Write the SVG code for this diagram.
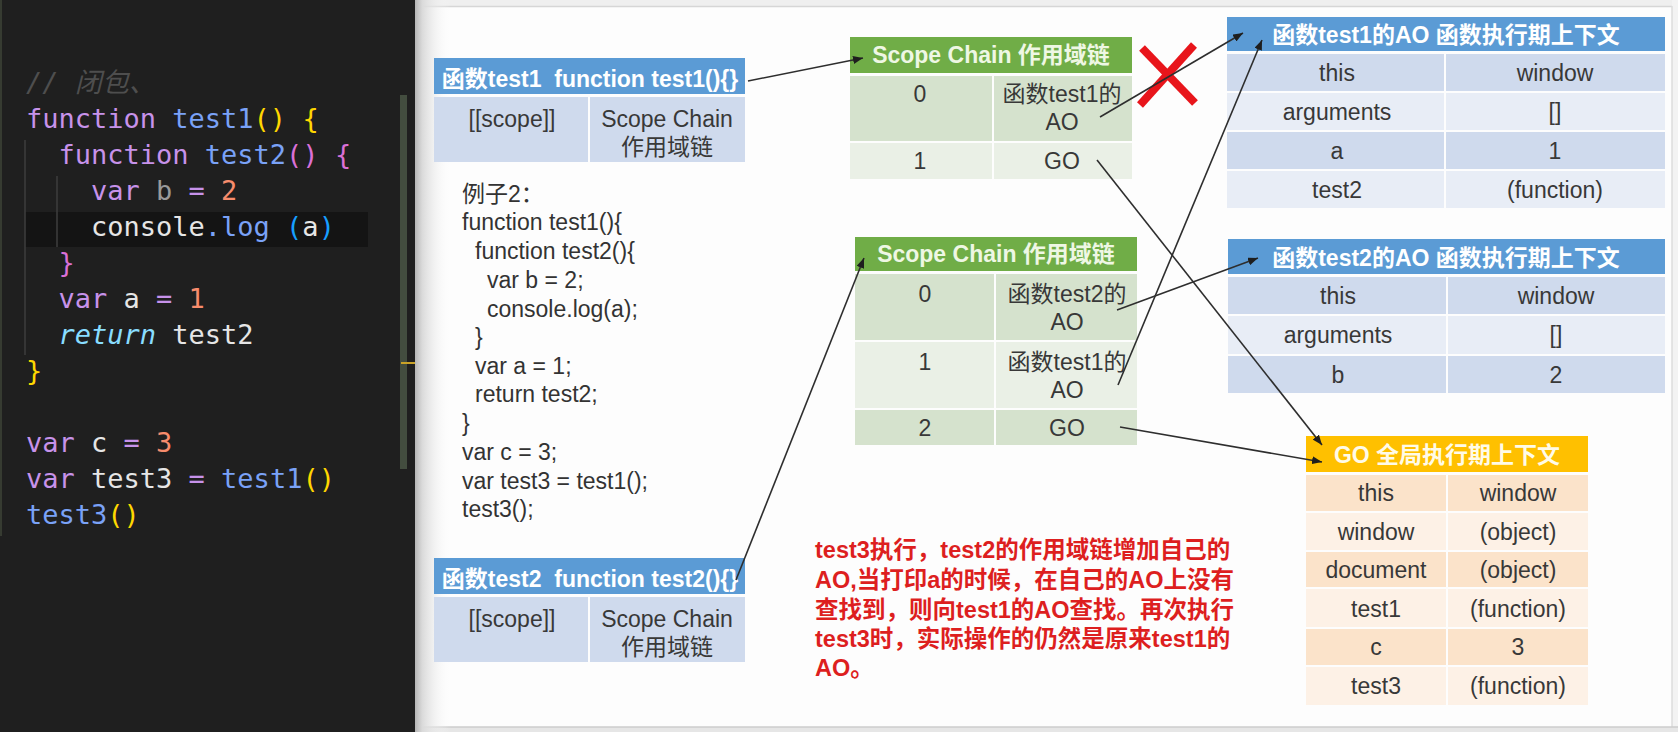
<svg xmlns="http://www.w3.org/2000/svg" width="1678" height="732" viewBox="0 0 1678 732">
<defs>
<style>
.code{font-family:"DejaVu Sans Mono","Noto Sans CJK SC",monospace;font-size:27px}
.kw{fill:#c792ea}.fn{fill:#7aa2f7}.yl{fill:#ffd700}.pk{fill:#da70d6}.lb{fill:#179fff}.num{fill:#f78c6c}.wh{fill:#e6e6e6}.gy{fill:#9a9a9a}.op{fill:#c792ea}.rt{fill:#89ddff;font-style:italic}
.cm{fill:#4e4e4e;font-style:italic}
.t{font-family:"Liberation Sans","Noto Sans CJK SC",sans-serif;font-size:23px;fill:#383838;text-anchor:middle}
.hd{font-weight:bold;fill:#ffffff}
.hdg{font-weight:bold;fill:#eef7e4}
.hdo{font-weight:bold;fill:#fffbe8}
.ex{text-anchor:start;fill:#333333}
.note{font-family:"Liberation Sans","Noto Sans CJK SC",sans-serif;font-size:23.5px;font-weight:bold;fill:#dd1f1f}
.bh{fill:#5b9bd5}.bd{fill:#cfdaed}.bl{fill:#e8edf6}
.gh{fill:#70ad47}.gd{fill:#d5e2cd}.gl{fill:#eaf0e6}
.oh{fill:#ffc000}.od{fill:#fbe3ca}.ol{fill:#fdf1e6}
.conn{stroke:#2e2e2e;stroke-width:1.6;fill:none;marker-end:url(#ah)}
</style>
<marker id="ah" viewBox="0 0 10 8" refX="10" refY="4" markerWidth="10" markerHeight="8" markerUnits="userSpaceOnUse" orient="auto">
<path d="M0,0 L10,4 L0,8 z" fill="#1e1e1e"/>
</marker>
<linearGradient id="shadow" x1="0" y1="0" x2="1" y2="0">
<stop offset="0" stop-color="#b5b5b5"/>
<stop offset="0.2" stop-color="#dadada"/>
<stop offset="1" stop-color="#fdfdfd" stop-opacity="0"/>
</linearGradient>
</defs>

<!-- slide background -->
<rect x="415" y="0" width="1263" height="732" fill="#fdfdfd"/>
<rect x="415" y="0" width="1263" height="6" fill="#efefef"/>
<line x1="415" y1="6.5" x2="1678" y2="6.5" stroke="#d6d6d6" stroke-width="1.5"/>
<rect x="1672" y="0" width="6" height="732" fill="#f3f3f3"/>
<line x1="1672" y1="6" x2="1672" y2="727" stroke="#dcdcdc" stroke-width="1.5"/>
<rect x="415" y="727" width="1263" height="5" fill="#e6e6e6"/>
<line x1="415" y1="727" x2="1678" y2="727" stroke="#cccccc" stroke-width="1.5"/>
<rect x="415" y="0" width="36" height="732" fill="url(#shadow)"/>

<!-- code editor panel -->
<g id="editor">
<rect x="0" y="0" width="415" height="732" fill="#1f1f1f"/>
<rect x="0" y="0" width="2" height="536" fill="#363b31"/>
<rect x="25" y="212" width="343" height="35" fill="#141414"/>
<line x1="25" y1="140" x2="25" y2="355" stroke="#3e3e3e" stroke-width="1.5"/>
<line x1="57" y1="176" x2="57" y2="247" stroke="#3e3e3e" stroke-width="1.5"/>
<rect x="400" y="95" width="7" height="374" fill="#434d3f"/>
<rect x="401" y="362" width="14" height="2" fill="#c9a227"/>
<text class="code" xml:space="preserve" x="26" y="92"><tspan class="cm">// 闭包、</tspan></text>
<text class="code" xml:space="preserve" x="26" y="128"><tspan class="kw">function</tspan> <tspan class="fn">test1</tspan><tspan class="yl">()</tspan> <tspan class="yl">{</tspan></text>
<text class="code" xml:space="preserve" x="58.5" y="164"><tspan class="kw">function</tspan> <tspan class="fn">test2</tspan><tspan class="pk">()</tspan> <tspan class="pk">{</tspan></text>
<text class="code" xml:space="preserve" x="91" y="200"><tspan class="kw">var</tspan> <tspan class="gy">b</tspan> <tspan class="op">=</tspan> <tspan class="num">2</tspan></text>
<text class="code" xml:space="preserve" x="91" y="236"><tspan class="wh">console</tspan><tspan class="fn">.log</tspan> <tspan class="lb">(</tspan><tspan class="wh">a</tspan><tspan class="lb">)</tspan></text>
<text class="code" xml:space="preserve" x="58.5" y="272"><tspan class="pk">}</tspan></text>
<text class="code" xml:space="preserve" x="58.5" y="308"><tspan class="kw">var</tspan><tspan class="wh"> a </tspan><tspan class="op">=</tspan> <tspan class="num">1</tspan></text>
<text class="code" xml:space="preserve" x="58.5" y="344"><tspan class="rt">return</tspan><tspan class="wh"> test2</tspan></text>
<text class="code" xml:space="preserve" x="26" y="380"><tspan class="yl">}</tspan></text>
<text class="code" xml:space="preserve" x="26" y="452"><tspan class="kw">var</tspan><tspan class="wh"> c </tspan><tspan class="op">=</tspan> <tspan class="num">3</tspan></text>
<text class="code" xml:space="preserve" x="26" y="488"><tspan class="kw">var</tspan><tspan class="wh"> test3 </tspan><tspan class="op">=</tspan> <tspan class="fn">test1</tspan><tspan class="yl">()</tspan></text>
<text class="code" xml:space="preserve" x="26" y="524"><tspan class="fn">test3</tspan><tspan class="yl">()</tspan></text>
</g>

<!-- function test1 box -->
<g id="fn-test1">
<rect class="bh" x="434" y="58" width="311" height="36"/>
<rect class="bd" x="434" y="97" width="154" height="65"/>
<rect class="bd" x="590" y="97" width="155" height="65"/>
<text class="t hd" xml:space="preserve" x="590" y="87">函数test1  function test1(){}</text>
<text class="t" x="512" y="127">[[scope]]</text>
<text class="t" x="667" y="127">Scope Chain</text>
<text class="t" x="667" y="155">作用域链</text>
</g>

<!-- example code -->
<g id="example">
<text class="t ex" x="462" y="202">例子2：</text>
<text class="t ex" x="462" y="230">function test1(){</text>
<text class="t ex" x="475" y="259">function test2(){</text>
<text class="t ex" x="487" y="288">var b = 2;</text>
<text class="t ex" x="487" y="317">console.log(a);</text>
<text class="t ex" x="475" y="345">}</text>
<text class="t ex" x="475" y="374">var a = 1;</text>
<text class="t ex" x="475" y="402">return test2;</text>
<text class="t ex" x="462" y="431">}</text>
<text class="t ex" x="462" y="460">var c = 3;</text>
<text class="t ex" x="462" y="489">var test3 = test1();</text>
<text class="t ex" x="462" y="517">test3();</text>
</g>

<!-- function test2 box -->
<g id="fn-test2">
<rect class="bh" x="434" y="558" width="311" height="36"/>
<rect class="bd" x="434" y="597" width="154" height="65"/>
<rect class="bd" x="590" y="597" width="155" height="65"/>
<text class="t hd" xml:space="preserve" x="590" y="587">函数test2  function test2(){}</text>
<text class="t" x="512" y="627">[[scope]]</text>
<text class="t" x="667" y="627">Scope Chain</text>
<text class="t" x="667" y="655">作用域链</text>
</g>

<!-- scope chain of test1 -->
<g id="scope-chain-1">
<rect class="gh" x="850" y="37" width="282" height="36"/>
<rect class="gd" x="850" y="76" width="142" height="65"/>
<rect class="gd" x="994" y="76" width="138" height="65"/>
<rect class="gl" x="850" y="143" width="142" height="36"/>
<rect class="gl" x="994" y="143" width="138" height="36"/>
<text class="t hdg" x="991" y="63">Scope Chain 作用域链</text>
<text class="t" x="920" y="102">0</text>
<text class="t" x="1062" y="102">函数test1的</text>
<text class="t" x="1062" y="130">AO</text>
<text class="t" x="920" y="169">1</text>
<text class="t" x="1062" y="169">GO</text>
</g>

<!-- scope chain of test2 -->
<g id="scope-chain-2">
<rect class="gh" x="855" y="237" width="282" height="34"/>
<rect class="gd" x="855" y="274" width="139" height="66"/>
<rect class="gd" x="996" y="274" width="141" height="66"/>
<rect class="gl" x="855" y="342" width="139" height="66"/>
<rect class="gl" x="996" y="342" width="141" height="66"/>
<rect class="gd" x="855" y="410" width="139" height="35"/>
<rect class="gd" x="996" y="410" width="141" height="35"/>
<text class="t hdg" x="996" y="262">Scope Chain 作用域链</text>
<text class="t" x="925" y="302">0</text>
<text class="t" x="1067" y="302">函数test2的</text>
<text class="t" x="1067" y="330">AO</text>
<text class="t" x="925" y="370">1</text>
<text class="t" x="1067" y="370">函数test1的</text>
<text class="t" x="1067" y="398">AO</text>
<text class="t" x="925" y="436">2</text>
<text class="t" x="1067" y="436">GO</text>
</g>

<!-- AO of test1 -->
<g id="ao-test1">
<rect class="bh" x="1227" y="17" width="438" height="34"/>
<rect class="bd" x="1227" y="54" width="217" height="37"/>
<rect class="bd" x="1446" y="54" width="219" height="37"/>
<rect class="bl" x="1227" y="93" width="217" height="37"/>
<rect class="bl" x="1446" y="93" width="219" height="37"/>
<rect class="bd" x="1227" y="132" width="217" height="37"/>
<rect class="bd" x="1446" y="132" width="219" height="37"/>
<rect class="bl" x="1227" y="171" width="217" height="37"/>
<rect class="bl" x="1446" y="171" width="219" height="37"/>
<text class="t hd" x="1446" y="43">函数test1的AO 函数执行期上下文</text>
<text class="t" x="1337" y="81">this</text>
<text class="t" x="1555" y="81">window</text>
<text class="t" x="1337" y="120">arguments</text>
<text class="t" x="1555" y="120">[]</text>
<text class="t" x="1337" y="159">a</text>
<text class="t" x="1555" y="159">1</text>
<text class="t" x="1337" y="198">test2</text>
<text class="t" x="1555" y="198">(function)</text>
</g>

<!-- AO of test2 -->
<g id="ao-test2">
<rect class="bh" x="1228" y="239" width="437" height="35"/>
<rect class="bd" x="1228" y="277" width="218" height="37"/>
<rect class="bd" x="1448" y="277" width="217" height="37"/>
<rect class="bl" x="1228" y="316" width="218" height="38"/>
<rect class="bl" x="1448" y="316" width="217" height="38"/>
<rect class="bd" x="1228" y="356" width="218" height="37"/>
<rect class="bd" x="1448" y="356" width="217" height="37"/>
<text class="t hd" x="1446" y="266">函数test2的AO 函数执行期上下文</text>
<text class="t" x="1338" y="304">this</text>
<text class="t" x="1556" y="304">window</text>
<text class="t" x="1338" y="343">arguments</text>
<text class="t" x="1556" y="343">[]</text>
<text class="t" x="1338" y="383">b</text>
<text class="t" x="1556" y="383">2</text>
</g>

<!-- GO -->
<g id="go">
<rect class="oh" x="1306" y="436" width="282" height="36"/>
<rect class="od" x="1306" y="475" width="140" height="36"/>
<rect class="od" x="1448" y="475" width="140" height="36"/>
<rect class="ol" x="1306" y="513" width="140" height="37"/>
<rect class="ol" x="1448" y="513" width="140" height="37"/>
<rect class="od" x="1306" y="552" width="140" height="35"/>
<rect class="od" x="1448" y="552" width="140" height="35"/>
<rect class="ol" x="1306" y="589" width="140" height="38"/>
<rect class="ol" x="1448" y="589" width="140" height="38"/>
<rect class="od" x="1306" y="629" width="140" height="36"/>
<rect class="od" x="1448" y="629" width="140" height="36"/>
<rect class="ol" x="1306" y="667" width="140" height="38"/>
<rect class="ol" x="1448" y="667" width="140" height="38"/>
<text class="t hdo" x="1447" y="463">GO 全局执行期上下文</text>
<text class="t" x="1376" y="501">this</text>
<text class="t" x="1518" y="501">window</text>
<text class="t" x="1376" y="540">window</text>
<text class="t" x="1518" y="540">(object)</text>
<text class="t" x="1376" y="578">document</text>
<text class="t" x="1518" y="578">(object)</text>
<text class="t" x="1376" y="617">test1</text>
<text class="t" x="1518" y="617">(function)</text>
<text class="t" x="1376" y="655">c</text>
<text class="t" x="1518" y="655">3</text>
<text class="t" x="1376" y="694">test3</text>
<text class="t" x="1518" y="694">(function)</text>
</g>

<!-- explanation note -->
<g id="note">
<text class="note" x="815" y="558">test3执行，test2的作用域链增加自己的</text>
<text class="note" x="815" y="588">AO,当打印a的时候，在自己的AO上没有</text>
<text class="note" x="815" y="618">查找到，则向test1的AO查找。再次执行</text>
<text class="note" x="815" y="647">test3时，实际操作的仍然是原来test1的</text>
<text class="note" x="815" y="676">AO。</text>
</g>

<!-- red cross -->
<g id="cross" stroke="#e8151b" stroke-width="8">
<line x1="1142" y1="48" x2="1195" y2="103"/>
<line x1="1194" y1="45" x2="1140" y2="105"/>
</g>

<!-- connectors -->
<g id="connectors">
<line class="conn" x1="748" y1="81" x2="863" y2="58"/>
<line class="conn" x1="1100" y1="117" x2="1243" y2="33"/>
<line class="conn" x1="1118" y1="385" x2="1262" y2="40"/>
<line class="conn" x1="1097" y1="160" x2="1322" y2="445"/>
<line class="conn" x1="1120" y1="427" x2="1322" y2="462"/>
<line class="conn" x1="1117" y1="310" x2="1258" y2="258"/>
<line class="conn" x1="736" y1="580" x2="864" y2="258"/>
</g>
</svg>
